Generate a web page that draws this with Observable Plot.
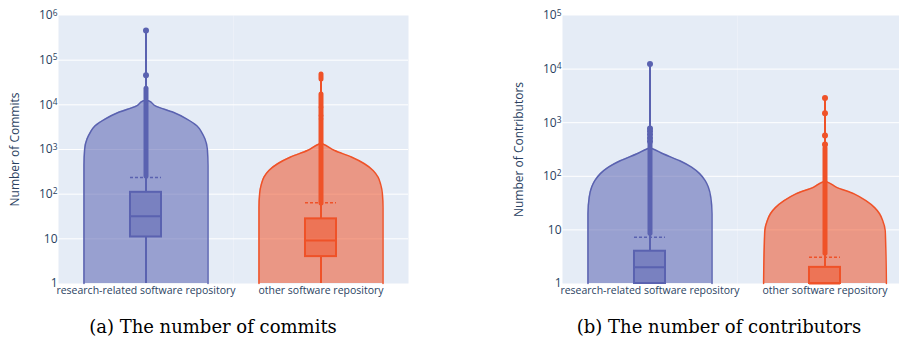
<!DOCTYPE html>
<html><head><meta charset="utf-8">
<script src="https://cdn.jsdelivr.net/npm/d3@7"></script>
<script src="https://cdn.jsdelivr.net/npm/@observablehq/plot@0.6"></script>
<style>
body{margin:0;background:#fff;width:899px;height:348px;overflow:hidden;position:relative;font-family:'Open Sans',sans-serif}
.panel{position:absolute;top:0;height:305px;overflow:hidden}
#pa{left:0;width:450px}
#pb{left:450px;width:449px}
.panel svg{max-width:none !important}
.cap{position:absolute;font-family:'DejaVu Serif',serif;font-size:18px;line-height:22px;color:#000;white-space:nowrap;transform:translateX(-50%)}
</style></head><body>
<div id="pa" class="panel"></div><div id="pb" class="panel"></div>
<div class="cap" id="ca" style="left:213px;top:316px"></div>
<div class="cap" id="cb" style="left:719px;top:316px"></div>
<script>
const categories = ["research-related software repository", "other software repository"];
const colors = ["#5a62b0", "#ef5228"];
const captions = ["(a) The number of commits", "(b) The number of contributors"];
const yLabels = ["Number of Commits", "Number of Contributors"];
const ticksCommits = [1, 10, 100, 1000, 10000, 100000, 1000000];
const ticksContrib = [1, 10, 100, 1000, 10000, 100000];

// violin outlines: [value, relative half-width]
const commitsResearchShape = [[1,1],[440,1],[1000,0.99],[1740,0.95],[2400,0.90],[3400,0.82],[4800,0.66],[6800,0.44],[9500,0.15],[12300,0.04],[12700,0]];
const commitsOtherShape = [[1,1],[51,1],[102,0.99],[170,0.96],[240,0.92],[340,0.84],[480,0.70],[680,0.49],[950,0.22],[1330,0.03],[1380,0]];
const contribResearchShape = [[1,1],[20,1],[41,0.98],[63,0.94],[83,0.89],[112,0.80],[148,0.67],[195,0.48],[263,0.21],[324,0.05],[340,0]];
const contribOtherShape = [[1,0.99],[4.8,0.98],[9.8,0.97],[15,0.93],[20,0.88],[26,0.80],[35,0.66],[47,0.47],[63,0.18],[78,0.04],[81,0]];

// box stats: [min, q1, median, q3, mean, max]
const commitsResearchStats = [1, 11, 32, 110, 236, 460000];
const commitsOtherStats = [1, 4, 9.2, 28, 64, 48000];
const contribResearchStats = [1, 1, 2, 4, 7.3, 12500];
const contribOtherStats = [1, 1, 1, 2, 3.1, 2900];

// dense outlier runs [lo, hi] and single outliers
const commitsResearchRuns = [[250, 23000]];
const commitsOtherRuns = [[62, 4600],[4950, 5500],[5800, 8400],[9000, 17000],[37000, 48000]];
const contribResearchRuns = [[8.5, 400]];
const contribOtherRuns = [[3.6, 330]];
const commitsResearchDots = [46000, 460000];
const commitsOtherDots = [];
const contribResearchDots = [450, 520, 600, 690, 780, 12500];
const contribOtherDots = [390, 580, 1500, 2900];

function panel(el, cfg) {
  const shapeRows = cfg.shapes.flatMap((s,i)=>s.map(([v,w])=>({cat: categories[i], v, w})));
  const statRows = cfg.stats.map((s,i)=>({cat: categories[i], min:s[0], q1:s[1], median:s[2], q3:s[3], mean:s[4], max:s[5]}));
  const runRows = cfg.runs.flatMap((b,i)=>b.map(([lo,hi])=>({cat:categories[i], lo, hi})));
  const dotRows = cfg.dots.flatMap((d,i)=>d.map(v=>({cat:categories[i], v})));
  const H = 1.411, bw = 0.25;
  const p = Plot.plot({
    width: cfg.width, height: 303, marginTop: 15, marginBottom: 20,
    marginLeft: cfg.marginLeft, marginRight: cfg.marginRight,
    style: {fontFamily: "'Open Sans', sans-serif", color: "#2a3f5f", background: "transparent", overflow: "visible", maxWidth: "none"},
    fx: {domain: categories, padding: 0, label: null},
    x: {domain: [-H, H], axis: null},
    y: {type: "log", domain: [1, cfg.ticks[cfg.ticks.length-1]]},
    color: {domain: categories, range: colors},
    marks: [
      Plot.frame({fill: "#e5ecf6"}),
      Plot.ruleY(cfg.ticks.slice(1, -1), {stroke: "white", strokeWidth: 1}),
      Plot.areaX(shapeRows, {fx: "cat", y: "v", x1: d=>-d.w, x2: d=>d.w, fill: "cat", fillOpacity: 0.55, curve: "monotone-y"}),
      Plot.lineX(shapeRows, {fx: "cat", y: "v", x: d=>-d.w, stroke: "cat", strokeWidth: 1.5, curve: "monotone-y"}),
      Plot.lineX(shapeRows, {fx: "cat", y: "v", x: d=>d.w, stroke: "cat", strokeWidth: 1.5, curve: "monotone-y"}),
      Plot.ruleX(statRows, {fx: "cat", x: 0, y1: "min", y2: "q1", stroke: "cat", strokeWidth: 2}),
      Plot.ruleX(statRows, {fx: "cat", x: 0, y1: "q3", y2: "max", stroke: "cat", strokeWidth: 2}),
      Plot.rect(statRows, {fx: "cat", x1: -bw, x2: bw, y1: "q1", y2: "q3", fill: "cat", fillOpacity: 0.5, stroke: "cat", strokeWidth: 2}),
      Plot.ruleY(statRows, {fx: "cat", y: "median", x1: -bw, x2: bw, stroke: "cat", strokeWidth: 2}),
      Plot.ruleY(statRows, {fx: "cat", y: "mean", x1: -bw, x2: bw, stroke: "cat", strokeWidth: 1.5, strokeDasharray: "3,2"}),
      Plot.ruleX(runRows, {fx: "cat", x: 0, y1: "lo", y2: "hi", stroke: "cat", strokeWidth: 5, strokeLinecap: "round"}),
      Plot.dot(dotRows, {fx: "cat", x: 0, y: "v", r: 3, fill: "cat", stroke: null}),
      Plot.axisFx({anchor: "bottom", fontSize: 10.5, tickSize: 0, tickPadding: 3, label: null}),
      Plot.axisY({ticks: cfg.ticks, tickSize: 0, tickPadding: 1, fontSize: 12,
        tickFormat: v => v === 1 ? "1" : v === 10 ? "10" : "10^" + Math.round(Math.log10(v)),
        label: cfg.yLabel, labelAnchor: "center", labelArrow: "none", labelOffset: 48})
    ]
  });
  d3.select(p).selectAll('g[aria-label="y-axis tick label"] text').each(function(){
    const t = this.textContent;
    if (t.includes("^")) {
      const [b, e] = t.split("^");
      const s = d3.select(this); s.text(null);
      s.append("tspan").text(b);
      s.append("tspan").attr("dy", "-0.45em").attr("font-size", "0.7em").text(e);
    }
  });
  document.getElementById(el).appendChild(p);
}

panel("pa", {width: 450, marginLeft: 58, marginRight: 42, ticks: ticksCommits, yLabel: yLabels[0],
  shapes: [commitsResearchShape, commitsOtherShape], stats: [commitsResearchStats, commitsOtherStats],
  runs: [commitsResearchRuns, commitsOtherRuns], dots: [commitsResearchDots, commitsOtherDots]});
panel("pb", {width: 462, marginLeft: 112, marginRight: 0, ticks: ticksContrib, yLabel: yLabels[1],
  shapes: [contribResearchShape, contribOtherShape], stats: [contribResearchStats, contribOtherStats],
  runs: [contribResearchRuns, contribOtherRuns], dots: [contribResearchDots, contribOtherDots]});
document.getElementById("ca").textContent = captions[0];
document.getElementById("cb").textContent = captions[1];
</script></body></html>
